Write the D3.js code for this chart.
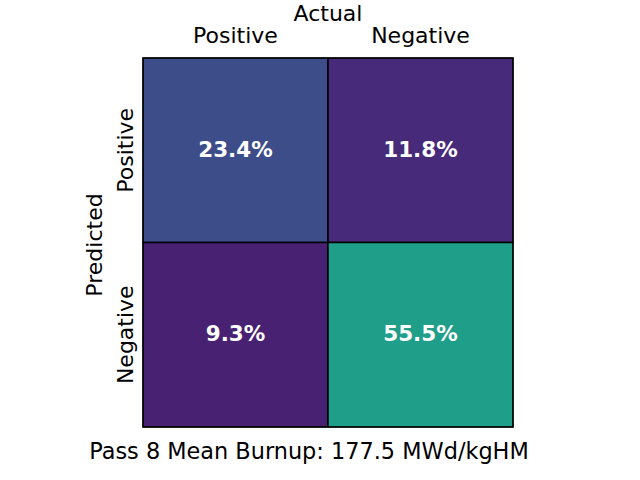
<!DOCTYPE html>
<html><head><meta charset="utf-8">
<script src="https://cdn.jsdelivr.net/npm/d3@7"></script>
<style>body{margin:0;background:#fff}</style>
</head><body>
<script>
const actualLabels = ["Positive", "Negative"];
const predictedLabels = ["Positive", "Negative"];
const values = [[23.4, 11.8], [9.3, 55.5]]; // rows: predicted, cols: actual
const title = "Pass 8 Mean Burnup: 177.5 MWd/kgHM";

const W = 640, H = 480;
const FS = 22;
const svg = d3.select("body").append("svg").attr("width", W).attr("height", H)
  .style("font-family", "DejaVu Sans, sans-serif");

const x = d3.scaleBand().domain(actualLabels.map((d,i)=>i)).range([143, 513]);
const y = d3.scaleBand().domain(predictedLabels.map((d,i)=>i)).range([58, 427]);
const color = d3.scaleSequential(d3.interpolateViridis).domain([0, 100]);

const cells = [];
values.forEach((row, r) => row.forEach((v, c) => cells.push({r, c, v})));

svg.selectAll("rect.cell").data(cells).join("rect")
  .attr("x", d => x(d.c)).attr("y", d => y(d.r))
  .attr("width", x.bandwidth()).attr("height", y.bandwidth())
  .attr("fill", d => color(d.v)).attr("stroke", "#000").attr("stroke-width", 1.5);

svg.selectAll("text.val").data(cells).join("text")
  .attr("x", d => x(d.c) + x.bandwidth()/2).attr("y", d => y(d.r) + y.bandwidth()/2 - 1)
  .attr("text-anchor", "middle").attr("dominant-baseline", "central")
  .attr("fill", "#fff").attr("font-weight", "bold").attr("font-size", 21.5)
  .text(d => d.v.toFixed(1) + "%");

// top axis
const xAxis = d3.axisTop(x).tickSize(0).tickPadding(15).tickFormat(i => actualLabels[i]);
const gx = svg.append("g").attr("transform", "translate(0,58)").call(xAxis);
gx.select(".domain").remove();
gx.selectAll("text").attr("font-size", FS).attr("fill", "#000").style("font-family", "DejaVu Sans, sans-serif");

const yAxis = d3.axisLeft(y).tickSize(0).tickPadding(8).tickFormat(i => predictedLabels[i]);
const gy = svg.append("g").attr("transform", "translate(143,0)").call(yAxis);
gy.select(".domain").remove();
gy.selectAll("text").attr("font-size", FS).attr("fill", "#000").style("font-family", "DejaVu Sans, sans-serif")
  .attr("text-anchor", "middle").attr("dy", null).attr("x", 0).attr("y", 0)
  .attr("dominant-baseline", "auto")
  .attr("transform", "translate(-10,0) rotate(-90)");

svg.append("text").attr("x", 328).attr("y", 21).attr("text-anchor", "middle")
  .attr("font-size", FS).text("Actual");
svg.append("text").attr("transform", "translate(102,245) rotate(-90)").attr("text-anchor", "middle")
  .attr("font-size", FS).text("Predicted");
svg.append("text").attr("x", 309).attr("y", 459).attr("text-anchor", "middle")
  .attr("font-size", 22.4).text(title);

svg.append("rect").attr("x", 143).attr("y", 58).attr("width", 370).attr("height", 369)
  .attr("fill", "none").attr("stroke", "#000").attr("stroke-width", 1);
</script>
</body></html>
